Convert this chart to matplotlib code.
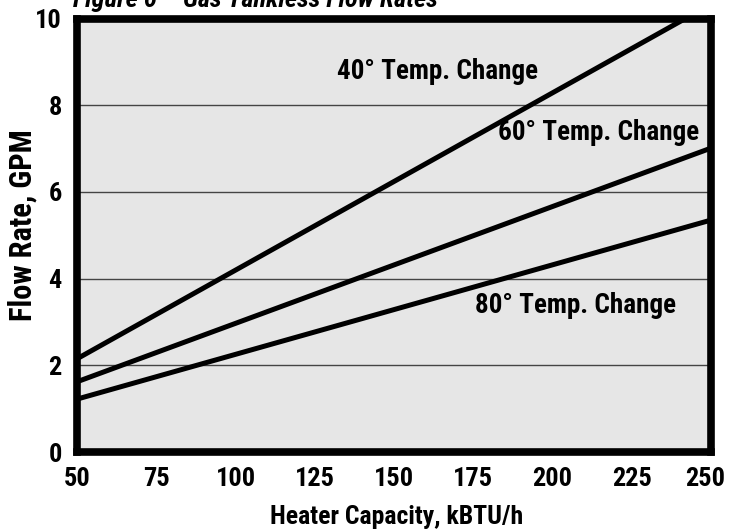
import matplotlib
matplotlib.use("Agg")
import matplotlib.pyplot as plt
from matplotlib.transforms import ScaledTranslation

# heater capacity (kBTU/h) at the ends of each straight line
capacity = [50, 250]
flow_40 = [2.15, 10.33]
flow_60 = [1.62, 7.01]
flow_80 = [1.22, 5.35]

x_ticks = [50, 75, 100, 125, 150, 175, 200, 225, 250]
y_ticks = [0, 2, 4, 6, 8, 10]

labels = ["40° Temp. Change", "60° Temp. Change", "80° Temp. Change"]
label_pos = [(163.6, 8.78), (214.4, 7.38), (207.4, 3.37)]

plt.rcParams['font.family'] = ['Roboto Condensed', 'Barlow Semi Condensed', 'DejaVu Sans']
plt.rcParams['font.weight'] = 'bold'

fig = plt.figure(figsize=(7.29, 5.29), dpi=100)
ax = fig.add_axes([77/729, 1 - 452/529, (711-77)/729, (452-18.5)/529])
ax.set_facecolor('#e6e6e6')

for v in y_ticks[1:-1]:
    ax.axhline(v, color='#444444', linewidth=1.0, zorder=1)

for ys in [flow_40, flow_60, flow_80]:
    ax.plot(capacity, ys, color='black', linewidth=3.6, solid_capstyle='butt', zorder=2)

for txt, (x, y) in zip(labels, label_pos):
    ax.text(x, y, txt, ha='center', va='center', fontsize=19.5, fontweight='bold', zorder=3)

ax.set_xlim(50, 250)
ax.set_ylim(0, 10)
ax.set_xticks(x_ticks)
ax.set_yticks(y_ticks)
ax.tick_params(length=0, labelsize=19)
ax.tick_params(axis='x', pad=10.5)
ax.tick_params(axis='y', pad=11)
for s in ax.spines.values():
    s.set_linewidth(5.5)
    s.set_zorder(4)

# last x label pulled in a little so it stays inside the image
last = ax.get_xticklabels()[-1]
last.set_transform(last.get_transform() + ScaledTranslation(-4/72, 0, fig.dpi_scale_trans))

ax.set_xlabel("Heater Capacity, kBTU/h", fontsize=18.5, fontweight='bold')
ax.xaxis.set_label_coords(0.5047, -0.122)
ax.xaxis.label.set_va('top')
ax.set_ylabel("Flow Rate, GPM", fontsize=22, fontweight='bold')
ax.yaxis.set_label_coords(-0.063, 0.5225)

# title sits partly outside the top of the image, as in the source
fig.text(73/729, 1 - 7/529, "Figure 6 – Gas Tankless Flow Rates", ha='left', va='baseline',
         fontsize=19, fontweight='bold', style='italic')

fig.savefig("out.png", dpi=100)
